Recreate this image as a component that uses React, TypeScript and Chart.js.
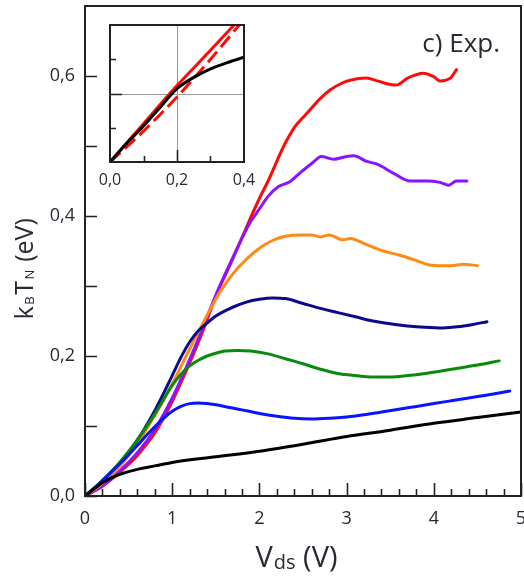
import React, { useEffect, useRef } from "react";
import { Chart, registerables } from "chart.js";

Chart.register(...registerables);

const FONT = '"Open Sans", "DejaVu Sans", sans-serif';
const TEXT = "#262a33";

// Axis ticks
const xTickValues = [0, 1, 2, 3, 4, 5];
const xMinorTicks = [0.2, 0.4, 0.6, 0.8, 1.2, 1.4, 1.6, 1.8, 2.2, 2.4, 2.6, 2.8, 3.2, 3.4, 3.6, 3.8, 4.2, 4.4, 4.6, 4.8];
const yTickValues = [0, 0.2, 0.4, 0.6];
const yMinorTicks = [0.1, 0.3, 0.5];
const insetXTickValues = [0, 0.2, 0.4];

// Noise temperature k_B T_N (eV) versus drain bias V_ds (V)
const blackV = [0, 0.1, 0.2, 0.3, 0.4, 0.6, 0.8, 1.0, 1.5, 2.0, 2.5, 3.0, 3.5, 4.0, 4.5, 5.0];
const blackE = [0, 0.010, 0.019, 0.026, 0.031, 0.038, 0.043, 0.048, 0.056, 0.064, 0.074, 0.085, 0.094, 0.104, 0.112, 0.120];

const blueV = [0, 0.1, 0.2, 0.3, 0.4, 0.5, 0.6, 0.7, 0.8, 0.9, 1.0, 1.1, 1.2, 1.3, 1.4, 1.6, 1.8, 2.0, 2.2, 2.4, 2.6, 2.8, 3.0, 3.2, 3.4, 3.6, 3.8, 4.0, 4.2, 4.4, 4.6, 4.87];
const blueE = [0, 0.010, 0.022, 0.034, 0.046, 0.059, 0.072, 0.086, 0.099, 0.111, 0.121, 0.128, 0.132, 0.133, 0.132, 0.128, 0.123, 0.118, 0.114, 0.111, 0.110, 0.111, 0.113, 0.116, 0.120, 0.124, 0.128, 0.132, 0.136, 0.140, 0.144, 0.150];

const greenV = [0, 0.2, 0.4, 0.6, 0.8, 1.0, 1.1, 1.2, 1.3, 1.4, 1.5, 1.6, 1.75, 1.9, 2.1, 2.3, 2.5, 2.7, 2.9, 3.1, 3.3, 3.5, 3.7, 3.9, 4.1, 4.3, 4.5, 4.75];
const greenE = [0, 0.022, 0.048, 0.080, 0.117, 0.158, 0.174, 0.186, 0.194, 0.200, 0.204, 0.207, 0.208, 0.207, 0.203, 0.196, 0.189, 0.181, 0.175, 0.172, 0.170, 0.170, 0.172, 0.175, 0.179, 0.183, 0.187, 0.193];

const navyV = [0, 0.2, 0.4, 0.6, 0.8, 1.0, 1.1, 1.2, 1.3, 1.4, 1.5, 1.6, 1.7, 1.85, 2.0, 2.15, 2.3, 2.5, 2.7, 2.9, 3.1, 3.3, 3.5, 3.7, 3.9, 4.1, 4.3, 4.45, 4.61];
const navyE = [0, 0.022, 0.048, 0.080, 0.122, 0.172, 0.198, 0.220, 0.236, 0.247, 0.257, 0.264, 0.270, 0.277, 0.281, 0.283, 0.282, 0.275, 0.268, 0.262, 0.256, 0.250, 0.246, 0.243, 0.241, 0.240, 0.242, 0.245, 0.249];

const orangeV = [0, 0.2, 0.4, 0.6, 0.8, 1.0, 1.2, 1.4, 1.55, 1.7, 1.85, 2.0, 2.15, 2.3, 2.47, 2.6, 2.7, 2.8, 2.96, 3.04, 3.23, 3.42, 3.61, 3.81, 3.95, 4.1, 4.2, 4.34, 4.5];
const orangeE = [0, 0.018, 0.042, 0.075, 0.115, 0.160, 0.210, 0.258, 0.292, 0.318, 0.338, 0.354, 0.365, 0.371, 0.373, 0.373, 0.370, 0.373, 0.366, 0.368, 0.359, 0.350, 0.344, 0.336, 0.330, 0.329, 0.329, 0.331, 0.329];

const violetV = [0, 0.2, 0.4, 0.6, 0.8, 1.0, 1.2, 1.35, 1.51, 1.7, 1.89, 2.0, 2.1, 2.22, 2.35, 2.47, 2.6, 2.71, 2.85, 3.0, 3.08, 3.23, 3.35, 3.54, 3.73, 3.92, 4.07, 4.17, 4.26, 4.38];
const violetE = [0, 0.015, 0.036, 0.062, 0.095, 0.140, 0.195, 0.240, 0.290, 0.342, 0.390, 0.410, 0.428, 0.442, 0.449, 0.462, 0.475, 0.485, 0.481, 0.485, 0.486, 0.478, 0.474, 0.461, 0.450, 0.450, 0.448, 0.444, 0.450, 0.450];

const redV = [0, 0.2, 0.4, 0.6, 0.8, 1.0, 1.2, 1.35, 1.5, 1.7, 1.89, 2.0, 2.1, 2.28, 2.41, 2.54, 2.7, 2.81, 2.95, 3.04, 3.23, 3.35, 3.57, 3.7, 3.88, 4.0, 4.07, 4.19, 4.26];
const redE = [0, 0.014, 0.034, 0.058, 0.090, 0.135, 0.190, 0.235, 0.285, 0.340, 0.395, 0.425, 0.450, 0.500, 0.528, 0.546, 0.568, 0.580, 0.590, 0.594, 0.597, 0.593, 0.587, 0.597, 0.604, 0.599, 0.593, 0.597, 0.609];

// Low-bias close-up (inset)
const insetBlackX = [0, 0.05, 0.1, 0.15, 0.2, 0.25, 0.3, 0.35, 0.4];
const insetBlackY = [0, 0.055, 0.105, 0.16, 0.214, 0.247, 0.272, 0.29, 0.306];
const insetRedX = [0, 0.1, 0.2, 0.3, 0.375];
const insetRedY = [0, 0.112, 0.223, 0.326, 0.405];
const insetRedDashX = [0, 0.1, 0.2, 0.3, 0.39];
const insetRedDashY = [0, 0.09, 0.19, 0.3, 0.405];

const pts = (xs: number[], ys: number[]) => xs.map((x, i) => ({ x, y: ys[i] }));
const comma = (v: number) => v.toFixed(1).replace(".", ",");

const line = (data: { x: number; y: number }[], color: string, extra: any = {}) => ({
  data,
  borderColor: color,
  backgroundColor: color,
  borderWidth: 3,
  pointRadius: 0,
  fill: false,
  cubicInterpolationMode: "monotone",
  borderCapStyle: "round",
  borderJoinStyle: "round",
  ...extra,
});

// keep the plot box fixed: no extra room reserved for overhanging labels
const fixSize = (w: number | null, h: number | null) => (s: any) => {
  if (w !== null) s.width = w;
  if (h !== null) s.height = h;
  s.paddingLeft = 0;
  s.paddingRight = 0;
  s.paddingTop = 0;
  s.paddingBottom = 0;
};

// Inward tick marks, frame, axis titles and panel tag
const mainDecor = {
  id: "mainDecor",
  afterDatasetsDraw(chart: any) {
    const { ctx, chartArea, scales } = chart;
    const { left, right, top, bottom } = chartArea;
    const x = scales.x;
    const y = scales.y;
    ctx.save();
    ctx.strokeStyle = "#222";
    ctx.lineWidth = 1.6;
    ctx.beginPath();
    xTickValues.forEach((v) => {
      const px = Math.round(x.getPixelForValue(v)) + 0.5;
      ctx.moveTo(px, bottom);
      ctx.lineTo(px, bottom - 13);
    });
    xMinorTicks.forEach((v) => {
      const px = Math.round(x.getPixelForValue(v)) + 0.5;
      ctx.moveTo(px, bottom);
      ctx.lineTo(px, bottom - 7);
    });
    [...yTickValues, ...yMinorTicks].forEach((v) => {
      const py = Math.round(y.getPixelForValue(v)) + 0.5;
      ctx.moveTo(left, py);
      ctx.lineTo(left + 12, py);
    });
    ctx.stroke();
    ctx.lineWidth = 2;
    ctx.strokeRect(left, top, right - left, bottom - top);

    ctx.fillStyle = TEXT;
    ctx.textBaseline = "alphabetic";

    // x title: V_ds (V)
    const big = `29px ${FONT}`;
    const sub = `20px ${FONT}`;
    ctx.font = big;
    const wV = ctx.measureText("V").width;
    const wP = ctx.measureText(" (V)").width;
    ctx.font = sub;
    const wds = ctx.measureText("ds").width;
    let cx = 296 - (wV + wds + wP) / 2;
    const by = 567;
    ctx.font = big;
    ctx.fillText("V", cx, by);
    cx += wV + 1;
    ctx.font = sub;
    ctx.fillText("ds", cx, by + 1.5);
    cx += wds;
    ctx.font = big;
    ctx.fillText(" (V)", cx, by);

    // y title: k_B T_N (eV)
    ctx.save();
    ctx.translate(33, 268);
    ctx.rotate(-Math.PI / 2);
    const yb = `25px ${FONT}`;
    const ys = `13px ${FONT}`;
    const parts: [string, string, number][] = [
      ["k", yb, 0],
      ["B", ys, 1],
      ["T", yb, 0],
      ["N", ys, 1],
      [" (eV)", yb, 0],
    ];
    let total = 0;
    const widths = parts.map(([t, f]) => {
      ctx.font = f;
      const w = ctx.measureText(t).width + 1.5;
      total += w;
      return w;
    });
    let tx = -total / 2;
    parts.forEach(([t, f, dy], i) => {
      ctx.font = f;
      ctx.fillText(t, tx, dy);
      tx += widths[i];
    });
    ctx.restore();

    // panel tag
    ctx.font = `26px ${FONT}`;
    ctx.textAlign = "right";
    ctx.fillText("c) Exp.", 500, 52);
    ctx.restore();
  },
};

const insetDecor = {
  id: "insetDecor",
  beforeDatasetsDraw(chart: any) {
    const { ctx, chartArea, scales } = chart;
    const { left, right, top, bottom } = chartArea;
    ctx.save();
    ctx.strokeStyle = "#9a9a9a";
    ctx.lineWidth = 1;
    const gx = Math.round(scales.x.getPixelForValue(0.2)) + 0.5;
    const gy = Math.round(scales.y.getPixelForValue(0.2)) + 0.5;
    ctx.beginPath();
    ctx.moveTo(gx, top);
    ctx.lineTo(gx, bottom);
    ctx.moveTo(left, gy);
    ctx.lineTo(right, gy);
    ctx.stroke();
    ctx.restore();
  },
  afterDatasetsDraw(chart: any) {
    const { ctx, chartArea, scales } = chart;
    const { left, right, top, bottom } = chartArea;
    ctx.save();
    ctx.strokeStyle = "#222";
    ctx.lineWidth = 1.6;
    ctx.beginPath();
    [0.1, 0.2, 0.3].forEach((v) => {
      const len = v === 0.2 ? 12 : 6;
      const px = Math.round(scales.x.getPixelForValue(v)) + 0.5;
      ctx.moveTo(px, bottom);
      ctx.lineTo(px, bottom - len);
      const py = Math.round(scales.y.getPixelForValue(v)) + 0.5;
      ctx.moveTo(left, py);
      ctx.lineTo(left + len, py);
    });
    ctx.stroke();
    ctx.lineWidth = 2;
    ctx.strokeRect(left, top, right - left, bottom - top);
    ctx.restore();
  },
};

export default function App() {
  const mainRef = useRef<HTMLCanvasElement>(null);
  const insetRef = useRef<HTMLCanvasElement>(null);

  useEffect(() => {
    const tickFont = { family: FONT, size: 18 };
    const main = new Chart(mainRef.current as HTMLCanvasElement, {
      type: "line",
      data: {
        datasets: [
          line(pts(blackV, blackE), "#000000"),
          line(pts(blueV, blueE), "#0a14ff"),
          line(pts(greenV, greenE), "#0a8a0a"),
          line(pts(navyV, navyE), "#0a0a8c"),
          line(pts(orangeV, orangeE), "#ff8a14"),
          line(pts(violetV, violetE), "#8a14ff"),
          line(pts(redV, redE), "#ff0a0a"),
        ] as any,
      },
      options: {
        animation: false,
        responsive: false,
        maintainAspectRatio: false,
        layout: { padding: { top: 6, right: 3, left: 0, bottom: 0 }, autoPadding: false },
        plugins: { legend: { display: false }, tooltip: { enabled: false } },
        scales: {
          x: {
            type: "linear",
            min: 0,
            max: 5,
            grid: { display: false, drawTicks: false },
            border: { display: false },
            afterBuildTicks: (s: any) => {
              s.ticks = xTickValues.map((v) => ({ value: v }));
            },
            afterFit: fixSize(null, 80),
            ticks: {
              padding: 12,
              color: TEXT,
              font: tickFont,
              maxRotation: 0,
              autoSkip: false,
              callback: (v: any) => String(v),
            },
          },
          y: {
            type: "linear",
            min: 0,
            max: 0.7,
            grid: { display: false, drawTicks: false },
            border: { display: false },
            afterBuildTicks: (s: any) => {
              s.ticks = yTickValues.map((v) => ({ value: v }));
            },
            afterFit: fixSize(85, null),
            ticks: {
              padding: 10,
              color: TEXT,
              font: tickFont,
              autoSkip: false,
              callback: (v: any) => comma(Number(v)),
            },
          },
        },
      } as any,
      plugins: [mainDecor],
    });

    const inset = new Chart(insetRef.current as HTMLCanvasElement, {
      type: "line",
      data: {
        datasets: [
          line(pts(insetBlackX, insetBlackY), "#000000"),
          line(pts(insetRedDashX, insetRedDashY), "#ff0a0a", { borderDash: [14, 6], borderCapStyle: "butt" }),
          line(pts(insetRedX, insetRedY), "#ff0a0a"),
        ] as any,
      },
      options: {
        animation: false,
        responsive: false,
        maintainAspectRatio: false,
        layout: { padding: { top: 10, right: 21, left: 20, bottom: 0 }, autoPadding: false },
        plugins: { legend: { display: false }, tooltip: { enabled: false } },
        scales: {
          x: {
            type: "linear",
            min: 0,
            max: 0.4,
            grid: { display: false, drawTicks: false },
            border: { display: false },
            afterBuildTicks: (s: any) => {
              s.ticks = insetXTickValues.map((v) => ({ value: v }));
            },
            afterFit: fixSize(null, 38),
            ticks: {
              padding: 9,
              color: TEXT,
              font: { family: FONT, size: 16 },
              maxRotation: 0,
              autoSkip: false,
              callback: (v: any) => comma(Number(v)),
            },
          },
          y: { type: "linear", min: 0, max: 0.4, display: false },
        },
      } as any,
      plugins: [insetDecor],
    });

    return () => {
      main.destroy();
      inset.destroy();
    };
  }, []);

  return (
    <div style={{ position: "absolute", left: 0, top: 0, width: 524, height: 576, background: "#fff" }}>
      <canvas ref={mainRef} width={524} height={576} style={{ position: "absolute", left: 0, top: 0 }} />
      <canvas ref={insetRef} width={175} height={185} style={{ position: "absolute", left: 90, top: 15 }} />
    </div>
  );
}
